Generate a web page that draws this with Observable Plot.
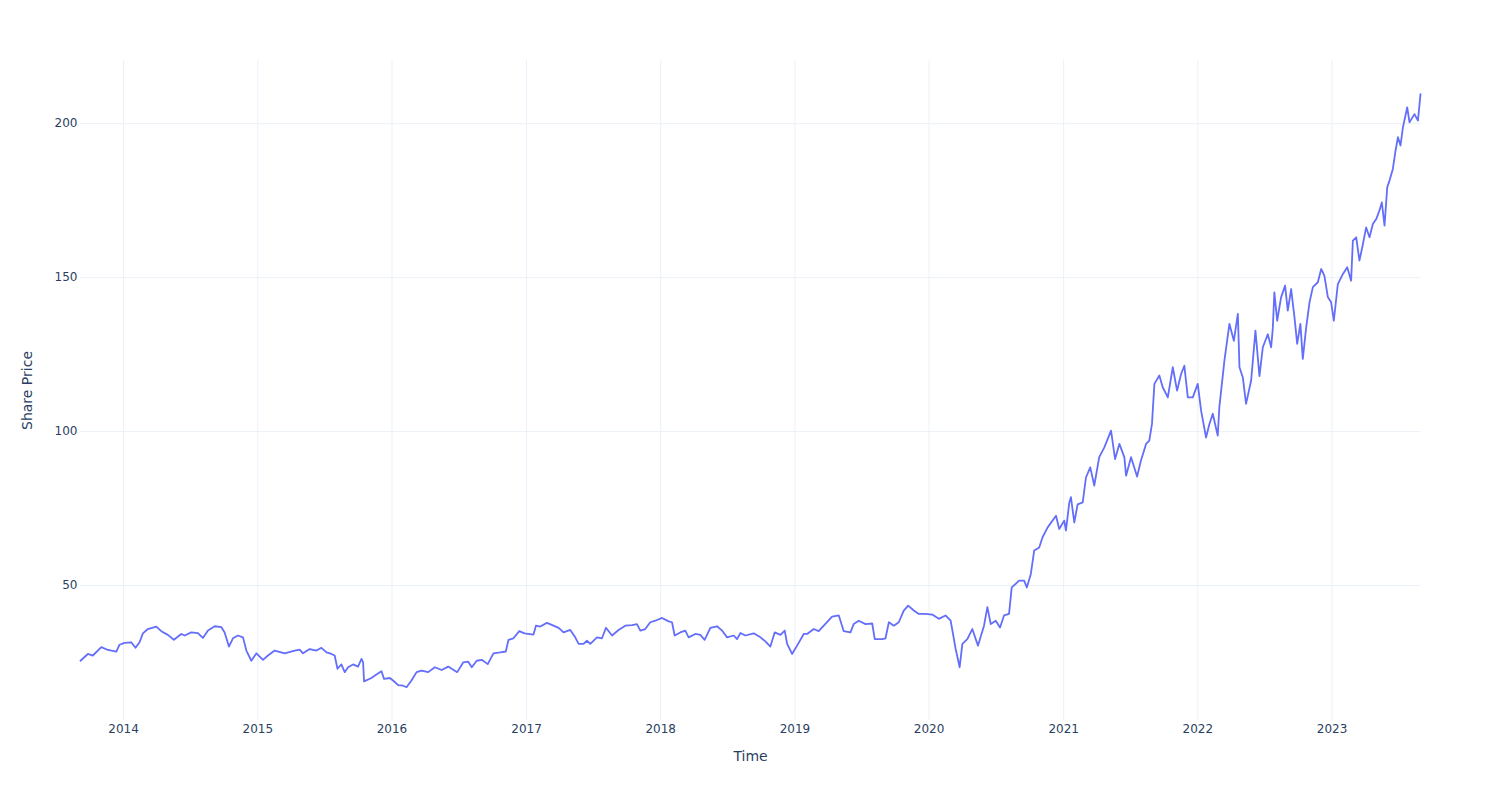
<!DOCTYPE html>
<html>
<head>
<meta charset="utf-8">
<script src="https://cdn.jsdelivr.net/npm/d3@7"></script>
<script src="https://cdn.jsdelivr.net/npm/@observablehq/plot@0.6"></script>
<style>
  html, body { margin: 0; padding: 0; background: #fff; }
  #chart { width: 1500px; height: 800px; }
</style>
</head>
<body>
<div id="chart"></div>
<script>
// Time (decimal year) of each reading
const times = [
  2013.679, 2013.734, 2013.771, 2013.834, 2013.883, 2013.946, 2013.970, 2014.007, 2014.057, 2014.089,
  2014.119, 2014.144, 2014.181, 2014.244, 2014.281, 2014.330, 2014.375, 2014.430, 2014.455, 2014.505,
  2014.554, 2014.591, 2014.629, 2014.679, 2014.729, 2014.753, 2014.785, 2014.815, 2014.852, 2014.890,
  2014.915, 2014.952, 2014.990, 2015.039, 2015.076, 2015.126, 2015.201, 2015.275, 2015.312, 2015.337,
  2015.387, 2015.437, 2015.474, 2015.512, 2015.549, 2015.573, 2015.594, 2015.623, 2015.648, 2015.673,
  2015.710, 2015.747, 2015.773, 2015.785, 2015.792, 2015.847, 2015.884, 2015.922, 2015.941, 2015.984,
  2016.008, 2016.046, 2016.083, 2016.108, 2016.145, 2016.183, 2016.220, 2016.269, 2016.319, 2016.369,
  2016.418, 2016.444, 2016.485, 2016.530, 2016.567, 2016.593, 2016.630, 2016.667, 2016.712, 2016.754,
  2016.804, 2016.846, 2016.866, 2016.903, 2016.946, 2016.985, 2017.052, 2017.070, 2017.102, 2017.152,
  2017.201, 2017.239, 2017.276, 2017.326, 2017.363, 2017.388, 2017.425, 2017.450, 2017.475, 2017.525,
  2017.562, 2017.592, 2017.637, 2017.686, 2017.736, 2017.786, 2017.823, 2017.848, 2017.885, 2017.922,
  2017.960, 2018.010, 2018.059, 2018.084, 2018.104, 2018.146, 2018.183, 2018.208, 2018.258, 2018.295,
  2018.327, 2018.370, 2018.420, 2018.457, 2018.494, 2018.544, 2018.569, 2018.594, 2018.631, 2018.693,
  2018.743, 2018.780, 2018.817, 2018.849, 2018.892, 2018.924, 2018.942, 2018.979, 2019.016, 2019.066,
  2019.091, 2019.140, 2019.177, 2019.215, 2019.277, 2019.327, 2019.364, 2019.414, 2019.438, 2019.476,
  2019.526, 2019.576, 2019.595, 2019.650, 2019.675, 2019.700, 2019.737, 2019.774, 2019.811, 2019.844,
  2019.886, 2019.923, 2019.973, 2020.023, 2020.072, 2020.122, 2020.160, 2020.197, 2020.227, 2020.247,
  2020.284, 2020.321, 2020.363, 2020.408, 2020.433, 2020.458, 2020.495, 2020.527, 2020.557, 2020.594,
  2020.614, 2020.669, 2020.706, 2020.726, 2020.756, 2020.781, 2020.818, 2020.843, 2020.881, 2020.943,
  2020.967, 2021.004, 2021.017, 2021.042, 2021.054, 2021.079, 2021.104, 2021.142, 2021.166, 2021.198,
  2021.228, 2021.265, 2021.303, 2021.353, 2021.383, 2021.415, 2021.452, 2021.465, 2021.502, 2021.547,
  2021.576, 2021.614, 2021.638, 2021.658, 2021.676, 2021.713, 2021.738, 2021.776, 2021.813, 2021.845,
  2021.875, 2021.899, 2021.925, 2021.962, 2021.999, 2022.024, 2022.061, 2022.086, 2022.111, 2022.148,
  2022.160, 2022.198, 2022.235, 2022.268, 2022.298, 2022.310, 2022.335, 2022.359, 2022.397, 2022.429,
  2022.459, 2022.484, 2022.521, 2022.546, 2022.558, 2022.570, 2022.591, 2022.620, 2022.650, 2022.670,
  2022.695, 2022.720, 2022.740, 2022.764, 2022.782, 2022.807, 2022.832, 2022.857, 2022.894, 2022.919,
  2022.943, 2022.969, 2022.993, 2023.013, 2023.043, 2023.081, 2023.113, 2023.142, 2023.155, 2023.180,
  2023.204, 2023.230, 2023.254, 2023.279, 2023.304, 2023.329, 2023.353, 2023.371, 2023.391, 2023.411,
  2023.428, 2023.453, 2023.471, 2023.491, 2023.510, 2023.528, 2023.560, 2023.577, 2023.614, 2023.640,
  2023.659
];

// Share price at each reading
const prices = [
  25.6, 27.8, 27.3, 30.0, 29.1, 28.6, 30.8, 31.4, 31.6, 29.8,
  31.6, 34.5, 35.9, 36.7, 35.2, 34.0, 32.4, 34.3, 33.8, 34.8,
  34.6, 33.0, 35.4, 36.8, 36.5, 34.8, 30.2, 32.9, 33.8, 33.2,
  28.9, 25.6, 28.0, 25.9, 27.3, 28.9, 28.0, 28.9, 29.2, 28.0,
  29.4, 28.9, 29.8, 28.3, 27.8, 27.3, 23.0, 24.4, 21.9, 23.5,
  24.4, 23.7, 26.2, 25.1, 18.9, 20.0, 21.1, 22.2, 19.7, 20.0,
  19.2, 17.7, 17.5, 17.0, 19.2, 21.9, 22.4, 21.9, 23.5, 22.6,
  23.7, 23.0, 21.9, 25.1, 25.3, 23.5, 25.6, 25.9, 24.5, 28.0,
  28.3, 28.6, 32.4, 32.9, 35.2, 34.5, 34.1, 37.0, 36.7, 37.9,
  37.0, 36.3, 34.8, 35.6, 33.2, 31.1, 31.1, 32.1, 31.1, 33.2,
  32.9, 36.3, 33.8, 35.6, 37.0, 37.2, 37.5, 35.4, 35.9, 38.1,
  38.6, 39.5, 38.4, 38.1, 33.8, 34.8, 35.4, 33.2, 34.3, 34.0,
  32.4, 36.3, 36.8, 35.4, 33.2, 33.8, 32.6, 34.6, 33.8, 34.5,
  33.2, 31.9, 30.2, 34.8, 34.0, 35.4, 31.1, 27.8, 30.5, 34.3,
  34.3, 35.9, 35.2, 37.0, 39.9, 40.3, 35.2, 34.8, 37.5, 38.6,
  37.5, 37.7, 32.6, 32.6, 32.9, 38.1, 37.0, 38.1, 41.9, 43.5,
  41.9, 40.8, 40.8, 40.6, 39.2, 40.3, 38.6, 29.5, 23.5, 31.1,
  32.6, 35.9, 30.5, 37.0, 43.0, 37.5, 38.6, 36.4, 40.3, 40.8,
  49.4, 51.6, 51.6, 49.4, 53.8, 61.4, 62.4, 65.7, 68.9, 72.7,
  68.4, 71.1, 67.9, 77.0, 78.7, 70.5, 76.4, 77.0, 85.1, 88.4,
  82.5, 91.7, 94.9, 100.3, 91.1, 96.0, 91.7, 85.7, 91.7, 85.4,
  90.6, 96.0, 97.1, 102.5, 115.5, 118.2, 114.4, 111.1, 120.9, 113.3,
  118.7, 121.4, 111.1, 111.1, 115.5, 106.8, 98.1, 102.5, 105.8, 98.7,
  107.9, 123.1, 135.0, 129.5, 138.2, 120.9, 117.6, 109.0, 116.6, 132.8,
  118.0, 127.4, 131.6, 127.4, 133.3, 145.2, 136.0, 143.6, 147.4, 139.3,
  146.3, 137.1, 128.5, 135.0, 123.6, 133.8, 142.0, 146.9, 148.5, 152.8,
  150.6, 143.6, 142.0, 136.0, 147.9, 151.2, 153.4, 149.0, 162.0, 163.1,
  155.5, 160.9, 166.3, 163.1, 167.4, 169.0, 171.8, 174.4, 166.9, 179.3,
  181.5, 185.3, 190.7, 195.6, 192.9, 198.8, 205.3, 200.4, 203.1, 201.0,
  209.6
];

const yTicks = [50, 100, 150, 200];
const xTickYears = [2014, 2015, 2016, 2017, 2018, 2019, 2020, 2021, 2022, 2023];
const xLabel = "Time";
const yLabel = "Share Price";

function decYearToDate(t) {
  const y = Math.floor(t);
  const a = Date.UTC(y, 0, 1), b = Date.UTC(y + 1, 0, 1);
  return new Date(a + (t - y) * (b - a));
}

const data = times.map((t, i) => ({date: decYearToDate(t), price: prices[i]}));
const xTicks = xTickYears.map(y => new Date(Date.UTC(y, 0, 1)));

const textColor = "#2a3f5f";
const gridColor = "#ebf0f8";
const font = "'DejaVu Sans', Verdana, sans-serif";

const chart = Plot.plot({
  width: 1500,
  height: 800,
  marginLeft: 80,
  marginRight: 80,
  marginTop: 60,
  marginBottom: 80,
  style: {fontFamily: font, background: "#fff", color: textColor},
  x: {type: "utc", domain: d3.extent(data, d => d.date)},
  y: {domain: [6.2, 220.5]},
  marks: [
    Plot.gridX(xTicks, {stroke: gridColor, strokeOpacity: 1, strokeWidth: 1}),
    Plot.gridY(yTicks, {stroke: gridColor, strokeOpacity: 1, strokeWidth: 1}),
    Plot.axisX(xTicks, {tickSize: 0, tickPadding: 4, tickFormat: d3.utcFormat("%Y"), fontSize: 12, fill: textColor, label: null}),
    Plot.axisY(yTicks, {tickSize: 0, tickPadding: 3, fontSize: 12, fill: textColor, label: null}),
    Plot.line(data, {x: "date", y: "price", stroke: "#636efa", strokeWidth: 1.8, curve: "linear"}),
    Plot.text([xLabel], {text: d => d, frameAnchor: "bottom", dy: 36, fontSize: 14, fill: textColor, lineAnchor: "middle"}),
    Plot.text([yLabel], {text: d => d, frameAnchor: "left", dx: -53, rotate: -90, fontSize: 14, fill: textColor, lineAnchor: "middle", textAnchor: "middle"})
  ]
});

document.getElementById("chart").appendChild(chart);
</script>
</body>
</html>
